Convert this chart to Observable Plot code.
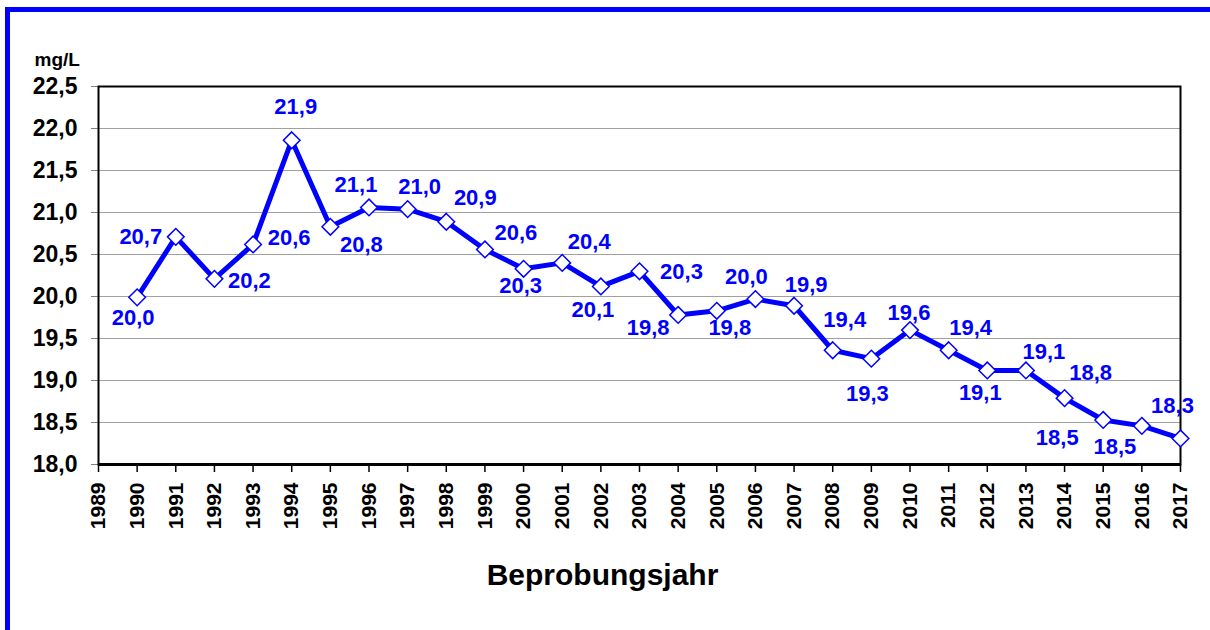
<!DOCTYPE html>
<html>
<head>
<meta charset="utf-8">
<script src="https://cdn.jsdelivr.net/npm/d3@7"></script>
<script src="https://cdn.jsdelivr.net/npm/@observablehq/plot@0.6"></script>
<style>
  html, body { margin: 0; padding: 0; background: #fff; }
  #wrap { position: relative; width: 1210px; height: 630px; overflow: hidden; }
  #border { position: absolute; left: 5px; top: 7px; right: 0; bottom: 0;
            border-left: 5px solid #0000ff; border-top: 5px solid #0000ff; pointer-events: none; }
  #chart { position: absolute; left: 0; top: 0; }
</style>
</head>
<body>
<div id="wrap"><div id="chart"></div><div id="border"></div></div>
<script>
// Data
const years = [1990, 1991, 1992, 1993, 1994, 1995, 1996, 1997, 1998, 1999,
               2000, 2001, 2002, 2003, 2004, 2005, 2006, 2007, 2008, 2009,
               2010, 2011, 2012, 2013, 2014, 2015, 2016, 2017];
const values = [19.99, 20.71, 20.21, 20.62, 21.86, 20.83, 21.06, 21.04, 20.89, 20.56,
                20.33, 20.40, 20.12, 20.30, 19.78, 19.83, 19.97, 19.89, 19.36, 19.26,
                19.60, 19.36, 19.12, 19.12, 18.79, 18.53, 18.46, 18.31];
const xTicks = [1989, 1990, 1991, 1992, 1993, 1994, 1995, 1996, 1997, 1998, 1999,
                2000, 2001, 2002, 2003, 2004, 2005, 2006, 2007, 2008, 2009,
                2010, 2011, 2012, 2013, 2014, 2015, 2016, 2017];
const yTicks = [18.0, 18.5, 19.0, 19.5, 20.0, 20.5, 21.0, 21.5, 22.0, 22.5];
const yUnit = "mg/L";
const xTitle = "Beprobungsjahr";

// Label placement offsets (dx, dy) in pixels, one per point
const labelOffsets = [
  [-4, 21], [-35, 0], [35, 2], [36, -6], [4, -33], [31, 18], [-13, -23], [12, -22],
  [29, -24], [31, -17], [-3, 17], [27, -21], [-8, 24], [42, 1], [-30, 13], [13, 17],
  [-9, -22], [12, -21], [12, -30], [-4, 35], [-1, -17], [22, -22], [-7, 23], [18, -18],
  [26, -25], [-46, 18], [-27, 21], [-8, -33]
];

const data = years.map((year, i) => ({year, value: values[i]}));
const fmt = v => v.toFixed(1).replace(".", ",");
const blue = "#0000ff";
const font = "'Liberation Sans', Arial, sans-serif";

const labelMarks = data.map((d, i) =>
  Plot.text([d], {
    x: "year", y: "value", text: dd => fmt(dd.value),
    dx: labelOffsets[i][0], dy: labelOffsets[i][1],
    fill: blue, fontSize: 22, fontWeight: "bold"
  })
);

const chart = Plot.plot({
  width: 1210,
  height: 630,
  marginLeft: 98,
  marginRight: 30,
  marginTop: 86,
  marginBottom: 166,
  style: {fontFamily: font, background: "transparent", overflow: "visible"},
  x: {type: "linear", domain: [1989, 2017]},
  y: {domain: [18, 22.5]},
  marks: [
    Plot.ruleY(yTicks.filter(t => t > 18 && t < 22.5), {stroke: "#a0a0a0", strokeWidth: 1}),
    Plot.axisY(yTicks, {
      tickSize: 7, tickPadding: 14, fontSize: 23, fontWeight: "bold",
      tickFormat: fmt, stroke: "#808080", fill: "black", label: null
    }),
    Plot.axisX(xTicks, {
      tickSize: 8, tickPadding: 10, tickRotate: -90, fontSize: 21, fontWeight: "bold",
      tickFormat: d => String(d), stroke: "black", strokeWidth: 1.5, fill: "black", label: null
    }),
    Plot.frame({stroke: "black", strokeWidth: 2}),
    Plot.ruleY([18], {stroke: "black", strokeWidth: 3}),
    Plot.line(data, {x: "year", y: "value", stroke: blue, strokeWidth: 5, strokeLinejoin: "round"}),
    Plot.dot(data, {x: "year", y: "value", symbol: "diamond2", r: 7.5, fill: "white", stroke: blue, strokeWidth: 1.5}),
    ...labelMarks,
    Plot.text([yUnit], {frameAnchor: "top-left", dx: -64, dy: -34, textAnchor: "start",
                        fontSize: 19, fontWeight: "bold", fill: "black"}),
    Plot.text([xTitle], {frameAnchor: "bottom", dx: -37, dy: 120, fontSize: 30, fontWeight: "bold", fill: "black"})
  ]
});
document.getElementById("chart").appendChild(chart);
</script>
</body>
</html>
